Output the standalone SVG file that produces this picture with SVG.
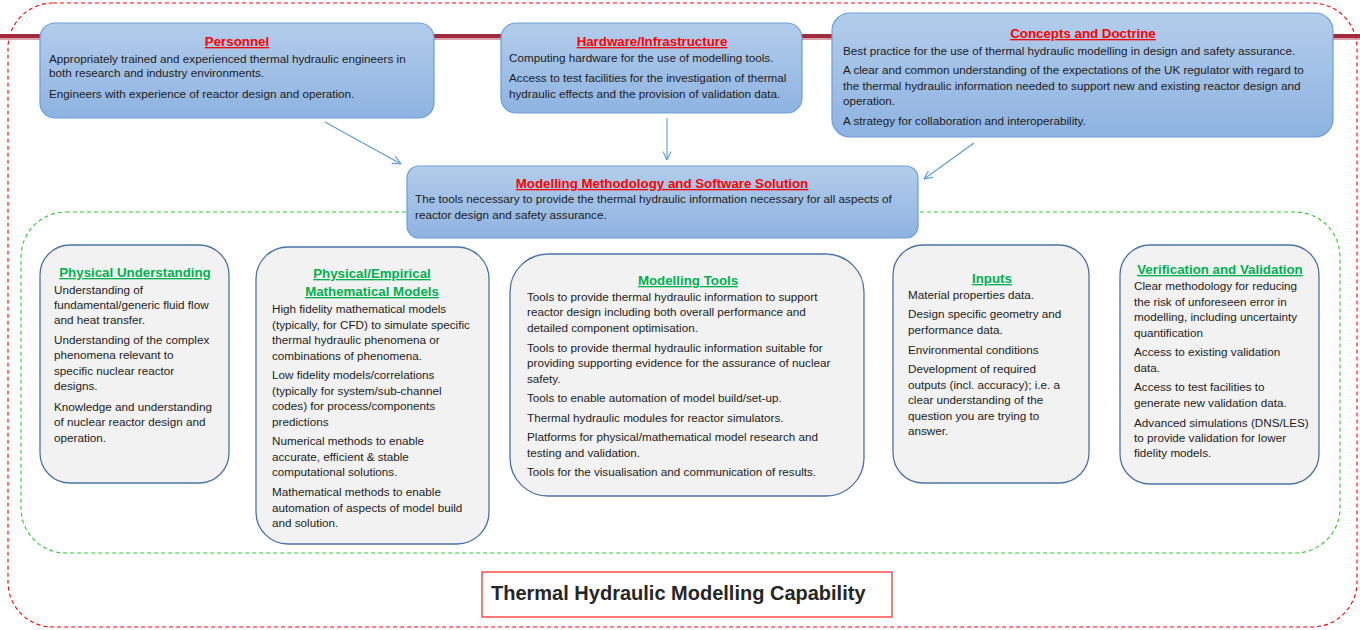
<svg xmlns="http://www.w3.org/2000/svg" width="1360" height="630" viewBox="0 0 1360 630">
<style>
  .t { font-family: "Liberation Sans", Arial, sans-serif; font-size: 11.7px; fill: #1c1c1c; }
  .h { font-family: "Liberation Sans", Arial, sans-serif; font-size: 13.3px; font-weight: bold; text-anchor: middle; text-decoration: underline; }
  .hr { fill: #ff0000; }
  .hg { fill: #00b050; }
  .top { fill: url(#gBlue); stroke: #6b9fd6; stroke-width: 1.2; }
  .bot { fill: #f2f2f2; stroke: #4a74a6; stroke-width: 1.3; }
  .con { fill: none; stroke: #5b9bd5; stroke-width: 1.1; marker-end: url(#arr); }
</style>
<defs>
  <linearGradient id="gBlue" x1="0" y1="0" x2="0" y2="1">
    <stop offset="0" stop-color="#b3cdeb"/>
    <stop offset="1" stop-color="#8eb3e1"/>
  </linearGradient>
  <marker id="arr" viewBox="0 0 10 10" refX="9.5" refY="5" markerWidth="9" markerHeight="9" markerUnits="userSpaceOnUse" orient="auto">
    <path d="M0,0.5 L9.5,5 L0,9.5" fill="none" stroke="#5b9bd5" stroke-width="1.2"/>
  </marker>
</defs>
<rect width="1360" height="630" fill="#ffffff"/>

<!-- background bar -->
<rect x="0" y="34" width="1360" height="4" fill="#a02a3e"/>
<rect x="0" y="38" width="1360" height="2" fill="#d8a3ab"/>

<!-- outer frames -->
<rect x="8" y="3" width="1349" height="624" rx="45" fill="none" stroke="#ff0000" stroke-width="1.1" stroke-dasharray="4,3"/>
<rect x="21" y="212" width="1319" height="341" rx="45" fill="none" stroke="#2ecc2e" stroke-width="1.1" stroke-dasharray="4,3"/>

<g id="connectors">
  <line class="con" x1="325" y1="122" x2="401" y2="164"/>
  <line class="con" x1="667" y1="118" x2="667" y2="160"/>
  <line class="con" x1="974" y1="143" x2="924" y2="179"/>
</g>

<g id="personnel">
  <rect class="top" x="40" y="23" width="394" height="95" rx="15"/>
  <text class="h hr" x="237" y="46">Personnel</text>
  <text class="t" x="49" y="63">Appropriately trained and experienced thermal hydraulic engineers in</text>
  <text class="t" x="49" y="77">both research and industry environments.</text>
  <text class="t" x="49" y="98">Engineers with experience of reactor design and operation.</text>
</g>

<g id="hardware">
  <rect class="top" x="501" y="23" width="301" height="90" rx="15"/>
  <text class="h hr" x="652" y="46">Hardware/Infrastructure</text>
  <text class="t" x="509" y="62">Computing hardware for the use of modelling tools.</text>
  <text class="t" x="509" y="82">Access to test facilities for the investigation of thermal</text>
  <text class="t" x="509" y="98">hydraulic effects and the provision of validation data.</text>
</g>

<g id="concepts">
  <rect class="top" x="832" y="13" width="501" height="124" rx="18"/>
  <text class="h hr" x="1083" y="38">Concepts and Doctrine</text>
  <text class="t" x="843" y="55">Best practice for the use of thermal hydraulic modelling in design and safety assurance.</text>
  <text class="t" x="843" y="74">A clear and common understanding of the expectations of the UK regulator with regard to</text>
  <text class="t" x="843" y="90">the thermal hydraulic information needed to support new and existing reactor design and</text>
  <text class="t" x="843" y="105">operation.</text>
  <text class="t" x="843" y="125">A strategy for collaboration and interoperability.</text>
</g>

<g id="methodology">
  <rect class="top" x="407" y="166" width="511" height="72" rx="12"/>
  <text class="h hr" x="662" y="188">Modelling Methodology and Software Solution</text>
  <text class="t" x="415" y="203">The tools necessary to provide the thermal hydraulic information necessary for all aspects of</text>
  <text class="t" x="415" y="219">reactor design and safety assurance.</text>
</g>

<g id="physical-understanding">
  <rect class="bot" x="40" y="245" width="189" height="238" rx="30"/>
  <text class="h hg" x="135" y="277">Physical Understanding</text>
  <text class="t" x="54" y="294">Understanding of</text>
  <text class="t" x="54" y="309">fundamental/generic fluid flow</text>
  <text class="t" x="54" y="324">and heat transfer.</text>
  <text class="t" x="54" y="344">Understanding of the complex</text>
  <text class="t" x="54" y="359">phenomena relevant to</text>
  <text class="t" x="54" y="375">specific nuclear reactor</text>
  <text class="t" x="54" y="390">designs.</text>
  <text class="t" x="54" y="411">Knowledge and understanding</text>
  <text class="t" x="54" y="426">of nuclear reactor design and</text>
  <text class="t" x="54" y="442">operation.</text>
</g>

<g id="math-models">
  <rect class="bot" x="256" y="247" width="233" height="297" rx="32"/>
  <text class="h hg" x="372" y="278">Physical/Empirical</text>
  <text class="h hg" x="372" y="296">Mathematical Models</text>
  <text class="t" x="272" y="313">High fidelity mathematical models</text>
  <text class="t" x="272" y="329">(typically, for CFD) to simulate specific</text>
  <text class="t" x="272" y="344">thermal hydraulic phenomena or</text>
  <text class="t" x="272" y="360">combinations of phenomena.</text>
  <text class="t" x="272" y="379">Low fidelity models/correlations</text>
  <text class="t" x="272" y="395">(typically for system/sub-channel</text>
  <text class="t" x="272" y="410">codes) for process/components</text>
  <text class="t" x="272" y="426">predictions</text>
  <text class="t" x="272" y="445">Numerical methods to enable</text>
  <text class="t" x="272" y="461">accurate, efficient &amp; stable</text>
  <text class="t" x="272" y="476">computational solutions.</text>
  <text class="t" x="272" y="496">Mathematical methods to enable</text>
  <text class="t" x="272" y="512">automation of aspects of model build</text>
  <text class="t" x="272" y="527">and solution.</text>
</g>

<g id="modelling-tools">
  <rect class="bot" x="510" y="254" width="354" height="242" rx="38"/>
  <text class="h hg" x="688" y="285">Modelling Tools</text>
  <text class="t" x="527" y="301">Tools to provide thermal hydraulic information to support</text>
  <text class="t" x="527" y="316">reactor design including both overall performance and</text>
  <text class="t" x="527" y="332">detailed component optimisation.</text>
  <text class="t" x="527" y="352">Tools to provide thermal hydraulic information suitable for</text>
  <text class="t" x="527" y="367">providing supporting evidence for the assurance of nuclear</text>
  <text class="t" x="527" y="383">safety.</text>
  <text class="t" x="527" y="402">Tools to enable automation of model build/set-up.</text>
  <text class="t" x="527" y="422">Thermal hydraulic modules for reactor simulators.</text>
  <text class="t" x="527" y="441">Platforms for physical/mathematical model research and</text>
  <text class="t" x="527" y="457">testing and validation.</text>
  <text class="t" x="527" y="476">Tools for the visualisation and communication of results.</text>
</g>

<g id="inputs">
  <rect class="bot" x="893" y="245" width="196" height="238" rx="30"/>
  <text class="h hg" x="992" y="283">Inputs</text>
  <text class="t" x="908" y="299">Material properties data.</text>
  <text class="t" x="908" y="318">Design specific geometry and</text>
  <text class="t" x="908" y="334">performance data.</text>
  <text class="t" x="908" y="354">Environmental conditions</text>
  <text class="t" x="908" y="373">Development of required</text>
  <text class="t" x="908" y="389">outputs (incl. accuracy); i.e. a</text>
  <text class="t" x="908" y="404">clear understanding of the</text>
  <text class="t" x="908" y="420">question you are trying to</text>
  <text class="t" x="908" y="435">answer.</text>
</g>

<g id="verification">
  <rect class="bot" x="1120" y="245" width="199" height="239" rx="30"/>
  <text class="h hg" x="1220" y="274">Verification and Validation</text>
  <text class="t" x="1134" y="290">Clear methodology for reducing</text>
  <text class="t" x="1134" y="306">the risk of unforeseen error in</text>
  <text class="t" x="1134" y="321">modelling, including uncertainty</text>
  <text class="t" x="1134" y="337">quantification</text>
  <text class="t" x="1134" y="356">Access to existing validation</text>
  <text class="t" x="1134" y="372">data.</text>
  <text class="t" x="1134" y="391">Access to test facilities to</text>
  <text class="t" x="1134" y="407">generate new validation data.</text>
  <text class="t" x="1134" y="427">Advanced simulations (DNS/LES)</text>
  <text class="t" x="1134" y="442">to provide validation for lower</text>
  <text class="t" x="1134" y="457">fidelity models.</text>
</g>

<g id="capability-title">
  <rect x="482" y="572" width="410" height="45" fill="#ffffff" stroke="#ff2020" stroke-width="1.2"/>
  <text x="491" y="600" font-family="'Liberation Sans', Arial, sans-serif" font-size="20" font-weight="bold" fill="#262626">Thermal Hydraulic Modelling Capability</text>
</g>
</svg>
